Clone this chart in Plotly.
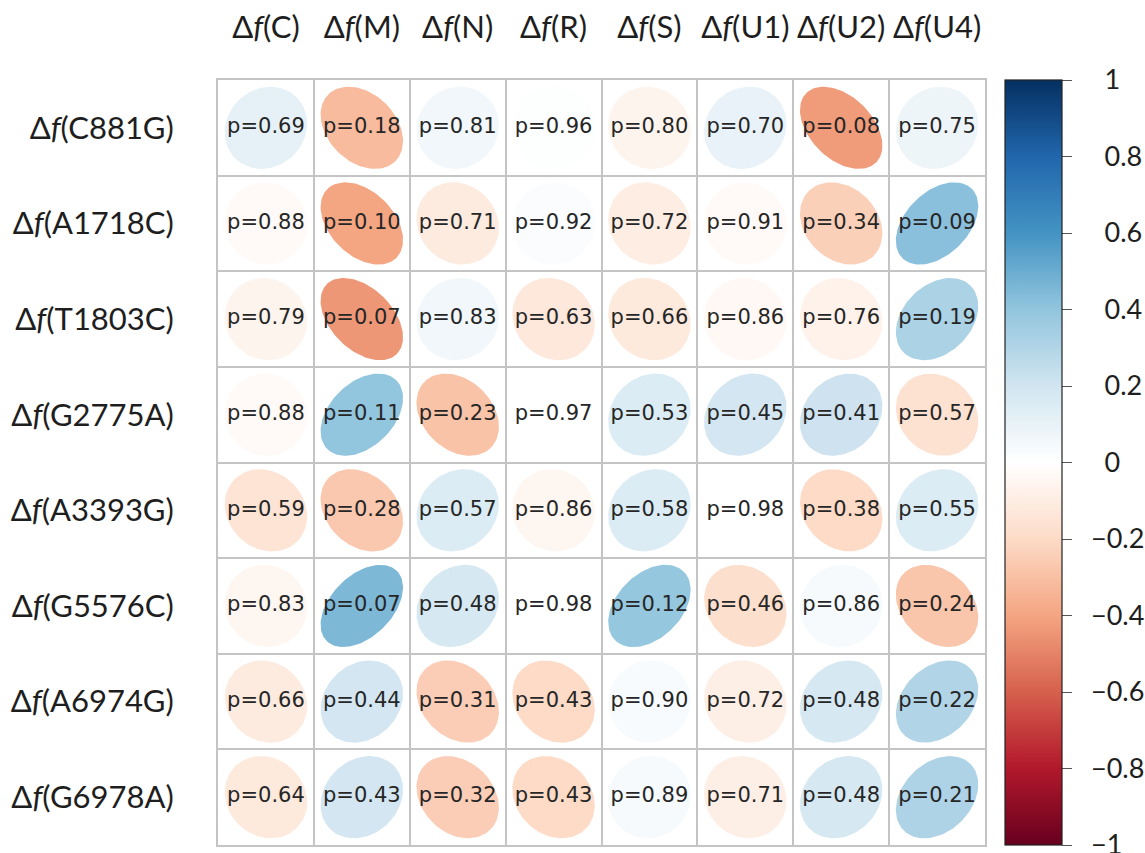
import numpy as np
import plotly.graph_objects as go
from plotly.colors import sample_colorscale

# Variables
col_vars = ["C", "M", "N", "R", "S", "U1", "U2", "U4"]
row_vars = ["C881G", "A1718C", "T1803C", "G2775A", "A3393G", "G5576C", "A6974G", "G6978A"]

# Correlation coefficients (rows x columns)
corr = [
    [0.11, -0.32, 0.06, 0.01, -0.06, 0.10, -0.43, 0.08],
    [-0.03, -0.40, -0.11, 0.02, -0.10, -0.03, -0.24, 0.42],
    [-0.06, -0.44, 0.06, -0.13, -0.12, -0.04, -0.07, 0.32],
    [-0.03, 0.40, -0.29, 0.00, 0.15, 0.19, 0.21, -0.16],
    [-0.15, -0.27, 0.15, -0.05, 0.15, 0.00, -0.20, 0.15],
    [-0.05, 0.45, 0.18, 0.00, 0.39, -0.18, 0.04, -0.28],
    [-0.11, 0.19, -0.25, -0.20, 0.03, -0.09, 0.18, 0.30],
    [-0.12, 0.19, -0.25, -0.20, 0.04, -0.09, 0.18, 0.31],
]

# p-values (rows x columns)
pvals = [
    [0.69, 0.18, 0.81, 0.96, 0.80, 0.70, 0.08, 0.75],
    [0.88, 0.10, 0.71, 0.92, 0.72, 0.91, 0.34, 0.09],
    [0.79, 0.07, 0.83, 0.63, 0.66, 0.86, 0.76, 0.19],
    [0.88, 0.11, 0.23, 0.97, 0.53, 0.45, 0.41, 0.57],
    [0.59, 0.28, 0.57, 0.86, 0.58, 0.98, 0.38, 0.55],
    [0.83, 0.07, 0.48, 0.98, 0.12, 0.46, 0.86, 0.24],
    [0.66, 0.44, 0.31, 0.43, 0.90, 0.72, 0.48, 0.22],
    [0.64, 0.43, 0.32, 0.43, 0.89, 0.71, 0.48, 0.21],
]

# Colour bar ticks
cbar_ticks = [-1, -0.8, -0.6, -0.4, -0.2, 0, 0.2, 0.4, 0.6, 0.8, 1]

# Diverging red-blue palette, -1 .. 1
rdbu = ["#67001F", "#B2182B", "#D6604D", "#F4A582", "#FDDBC7", "#FFFFFF",
        "#D1E5F0", "#92C5DE", "#4393C3", "#2166AC", "#053061"]
colorscale = [[i / (len(rdbu) - 1), c] for i, c in enumerate(rdbu)]

LABEL_FONT = "Lato, 'Open Sans', sans-serif"
TEXT_COLOR = "#1e1e1e"
GRID_COLOR = "#C4C4C4"

fig = go.Figure()

# Ellipse outline for a correlation value (unit cell, scaled)
k = np.linspace(0, 2 * np.pi, 120)
scale = 0.86


def ellipse(rho):
    d = np.arccos(rho)
    ex = np.cos(k + d / 2) / 2 * scale
    ey = np.cos(k - d / 2) / 2 * scale
    return ex, ey


for i, rname in enumerate(row_vars):
    for j, cname in enumerate(col_vars):
        rho = corr[i][j]
        ex, ey = ellipse(rho)
        color = sample_colorscale(colorscale, [(rho + 1) / 2])[0]
        fig.add_trace(go.Scatter(
            x=(j + 1) + ex,
            y=(i + 1) - ey,
            mode="lines",
            fill="toself",
            fillcolor=color,
            line=dict(width=0, color=color),
            hoverinfo="skip",
            showlegend=False,
        ))

# p-value labels
tx, ty, tt = [], [], []
for i in range(len(row_vars)):
    for j in range(len(col_vars)):
        tx.append(j + 1)
        ty.append(i + 1)
        tt.append(f"p={pvals[i][j]:.2f}")
fig.add_trace(go.Scatter(
    x=tx, y=ty, text=tt, mode="text",
    textfont=dict(family="DejaVu Sans", size=21, color="#262626"),
    hoverinfo="skip", showlegend=False,
))


def cbar_label(v):
    # positive labels sit one minus-width further right than negative ones
    if v < 0:
        return "\u2002\u2212" + f"{abs(v):g}"
    return "\u2002\u2002" + f"{v:g}"


# Colour bar carrier
fig.add_trace(go.Scatter(
    x=[None], y=[None], mode="markers",
    marker=dict(
        color=[0], colorscale=colorscale, cmin=-1, cmax=1, showscale=True,
        colorbar=dict(
            x=1.026, xanchor="left", xref="paper",
            y=0.5, yanchor="middle",
            len=765, lenmode="pixels",
            thickness=57, thicknessmode="pixels",
            outlinecolor="#222222", outlinewidth=1.2,
            ticks="outside", ticklen=10, tickcolor="#555555", tickwidth=1,
            tickvals=cbar_ticks,
            ticktext=[cbar_label(v) for v in cbar_ticks],
            tickfont=dict(family=LABEL_FONT, size=27, color=TEXT_COLOR),
            ticklabeloverflow="allow",
            xpad=0, ypad=0,
        ),
    ),
    hoverinfo="skip", showlegend=False,
))

cell_edges = [v + 0.5 for v in range(len(col_vars) + 1)]

fig.update_xaxes(
    range=[0.5, len(col_vars) + 0.5],
    side="top",
    tickvals=list(range(1, len(col_vars) + 1)),
    ticktext=[f"\u0394<i>f</i>({c})" for c in col_vars],
    tickfont=dict(family=LABEL_FONT, size=31, color=TEXT_COLOR),
    ticks="outside", ticklen=28, tickcolor="rgba(0,0,0,0)",
    showgrid=False, zeroline=False,
    showline=True, mirror=True, linecolor=GRID_COLOR, linewidth=2,
    minor=dict(tickvals=cell_edges, showgrid=True, gridcolor=GRID_COLOR,
               gridwidth=2, ticks=""),
    fixedrange=True,
)
fig.update_yaxes(
    range=[len(row_vars) + 0.5, 0.5],
    tickvals=list(range(1, len(row_vars) + 1)),
    ticktext=[f"\u0394<i>f</i>({r})" for r in row_vars],
    tickfont=dict(family=LABEL_FONT, size=31, color=TEXT_COLOR),
    ticks="outside", ticklen=36, tickcolor="rgba(0,0,0,0)",
    showgrid=False, zeroline=False,
    showline=True, mirror=True, linecolor=GRID_COLOR, linewidth=2,
    minor=dict(tickvals=cell_edges, showgrid=True, gridcolor=GRID_COLOR,
               gridwidth=2, ticks=""),
    fixedrange=True,
)

fig.update_layout(
    width=1145, height=853,
    margin=dict(l=218, r=160, t=80, b=8, autoexpand=False),
    paper_bgcolor="white", plot_bgcolor="white",
    showlegend=False,
)

fig.write_html("out.html")
